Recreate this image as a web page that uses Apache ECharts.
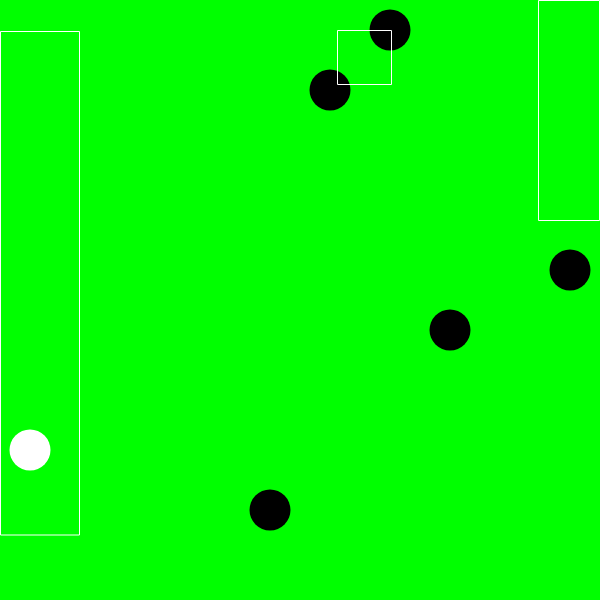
<!DOCTYPE html>
<html>
<head>
<meta charset="utf-8">
<script src="https://cdn.jsdelivr.net/npm/echarts@6/dist/echarts.min.js"></script>
<style>html,body{margin:0;padding:0;background:#00ff00;}#c{width:600px;height:600px;}</style>
</head>
<body>
<div id="c"></div>
<script>
var blackPoints = [[390,30],[330,90],[570,270],[450,330],[270,510]];
var whitePoints = [[30,450]];
var rects = [[0.5,31.5,79.5,535],[337.5,30.5,391.5,84.5],[538.5,0.5,599.5,220.5]];

var chart = echarts.init(document.getElementById('c'), null, {renderer:'canvas'});
chart.setOption({
  backgroundColor:'#00ff00',
  animation:false,
  grid:{left:0,right:0,top:0,bottom:0},
  xAxis:{type:'value',min:0,max:600,show:false},
  yAxis:{type:'value',min:0,max:600,inverse:true,show:false},
  series:[
    {type:'scatter',data:blackPoints,symbolSize:41,itemStyle:{color:'#000000',opacity:1},silent:true},
    {type:'scatter',data:whitePoints,symbolSize:41,itemStyle:{color:'#ffffff',opacity:1},silent:true},
    {type:'custom',data:rects,silent:true,z:10,
      renderItem:function(params,api){
        var p0=api.coord([api.value(0),api.value(1)]);
        var p1=api.coord([api.value(2),api.value(3)]);
        return {type:'rect',shape:{x:p0[0],y:p0[1],width:p1[0]-p0[0],height:p1[1]-p0[1]},
          style:{fill:null,stroke:'#ffffff',lineWidth:1}};
      }}
  ]
});
</script>
</body>
</html>
